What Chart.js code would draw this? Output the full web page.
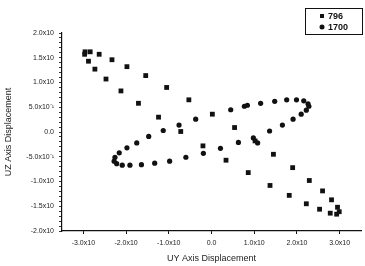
<!DOCTYPE html>
<html>
<head>
<meta charset="utf-8">
<script src="https://cdn.jsdelivr.net/npm/chart.js@4"></script>
<style>
  body { margin: 0; background: #fff; }
  #wrap { width: 365px; height: 266px; }
</style>
</head>
<body>
<div id="wrap"><canvas id="c" width="365" height="266"></canvas></div>
<script>
// series 796 - narrow diagonal orbit
var uy796 = [-2.97, -2.96, -2.84, -2.63, -2.33, -1.98, -1.54, -1.05, -0.53, 0.02, 0.54, 1.02, 1.45, 1.90, 2.29, 2.60, 2.81, 2.95, 2.99, 2.93,
             2.78, 2.53, 2.22, 1.82, 1.37, 0.86, 0.34, -0.20, -0.72, -1.24, -1.71, -2.12, -2.47, -2.73, -2.88];
var uz796 = [1.57, 1.62, 1.62, 1.57, 1.46, 1.32, 1.14, 0.90, 0.65, 0.36, 0.09, -0.18, -0.45, -0.72, -0.98, -1.19, -1.37, -1.52, -1.61, -1.66,
             -1.64, -1.56, -1.45, -1.28, -1.08, -0.82, -0.57, -0.28, 0.01, 0.30, 0.58, 0.83, 1.07, 1.27, 1.43];

// series 1700 - wide orbit
var uy1700 = [-2.16, -1.98, -1.75, -1.47, -1.13, -0.76, -0.37, 0.45, 0.77, 0.84, 1.15, 1.48, 1.76, 1.99, 2.16, 2.26, 2.28, 2.22,
              2.10, 1.91, 1.66, 1.36, 1.08, 0.98, 0.63, 0.21, -0.19, -0.60, -0.98, -1.33, -1.64, -1.91, -2.09, -2.22, -2.28, -2.26];
var uz1700 = [-0.42, -0.32, -0.22, -0.09, 0.03, 0.14, 0.26, 0.45, 0.52, 0.54, 0.58, 0.62, 0.65, 0.65, 0.63, 0.57, 0.52, 0.44,
              0.36, 0.26, 0.14, 0.02, -0.22, -0.12, -0.21, -0.33, -0.43, -0.51, -0.59, -0.63, -0.66, -0.67, -0.67, -0.64, -0.59, -0.51];

var seriesNames = ["796", "1700"];

var xTickValues = [-3, -2, -1, 0, 1, 2, 3];
var xTickLabels = ["-3.0x10", "-2.0x10", "-1.0x10", "0.0", "1.0x10", "2.0x10", "3.0x10"];
var yTickValues = [2, 1.5, 1, 0.5, 0, -0.5, -1, -1.5, -2];
var yTickLabels = ["2.0x10", "1.5x10", "1.0x10", "5.0x10⁻¹", "0.0", "-5.0x10⁻¹", "-1.0x10", "-1.5x10", "-2.0x10"];

const toPoints = (xs, ys) => xs.map((x, i) => ({x: x, y: ys[i]}));

const labelFor = (v, values, labels) => {
    for (var i = 0; i < values.length; i++) {
        if (Math.abs(values[i] - v) < 1e-6) return labels[i];
    }
    return "";
};

// legend box drawn in the upper right corner
const boxLegend = {
    id: "boxLegend",
    afterDraw(chart) {
        var ctx = chart.ctx;
        ctx.save();
        ctx.strokeStyle = "#111";
        ctx.lineWidth = 1;
        ctx.strokeRect(305.5, 8.5, 57, 26);
        ctx.fillStyle = "#111";
        ctx.font = "bold 9px 'Liberation Sans', Arial, sans-serif";
        ctx.textBaseline = "middle";
        chart.data.datasets.forEach((ds, i) => {
            var y = 16 + i * 11;
            if (ds.pointStyle === "rect") {
                ctx.fillRect(320, y - 2, 4, 4);
            } else {
                ctx.beginPath();
                ctx.arc(322, y, 2.5, 0, Math.PI * 2);
                ctx.fill();
            }
            ctx.fillText(ds.label, 328, y + 0.5);
        });
        ctx.restore();
    }
};

var tickFont = {family: "'Liberation Sans', Arial, sans-serif", size: 7};
var titleFont = {family: "'Liberation Sans', Arial, sans-serif", size: 9};

new Chart("c", {
    type: "scatter",
    data: {
        datasets: [
            {
                label: seriesNames[0],
                data: toPoints(uy796, uz796),
                pointStyle: "rect",
                pointRadius: 3.4,
                backgroundColor: "#111",
                borderColor: "#111",
                borderWidth: 0
            },
            {
                label: seriesNames[1],
                data: toPoints(uy1700, uz1700),
                pointStyle: "circle",
                pointRadius: 2.6,
                backgroundColor: "#111",
                borderColor: "#111",
                borderWidth: 0
            }
        ]
    },
    options: {
        responsive: false,
        animation: false,
        layout: {padding: {top: 33, right: 2, left: 0, bottom: 0}},
        plugins: {
            legend: {display: false},
            tooltip: {enabled: false}
        },
        scales: {
            x: {
                type: "linear",
                min: -3.5,
                max: 3.5,
                afterBuildTicks: (scale) => {
                    scale.ticks = xTickValues.map(v => ({value: v}));
                },
                afterFit: (scale) => { scale.height = 35; },
                border: {display: true, color: "#111", width: 1.2},
                grid: {drawOnChartArea: false, tickLength: 3, tickColor: "#111"},
                ticks: {
                    color: "#222",
                    font: tickFont,
                    padding: 5,
                    maxRotation: 0,
                    autoSkip: false,
                    callback: (v) => labelFor(v, xTickValues, xTickLabels)
                },
                title: {
                    display: true,
                    text: "UY Axis Displacement",
                    color: "#222",
                    font: titleFont,
                    padding: {top: 0, bottom: 2}
                }
            },
            y: {
                type: "linear",
                min: -2,
                max: 2,
                afterBuildTicks: (scale) => {
                    var t = [];
                    for (var k = -20; k <= 20; k++) t.push({value: k / 10});
                    scale.ticks = t;
                },
                afterFit: (scale) => { scale.width = 62; },
                border: {display: true, color: "#111", width: 1.2},
                grid: {drawOnChartArea: false, tickLength: 3, tickColor: "#333"},
                ticks: {
                    color: "#222",
                    font: tickFont,
                    padding: 5,
                    autoSkip: false,
                    callback: (v) => labelFor(v, yTickValues, yTickLabels)
                },
                title: {
                    display: true,
                    text: "UZ Axis Displacement",
                    color: "#222",
                    font: titleFont,
                    padding: {top: 3, bottom: 0}
                }
            }
        }
    },
    plugins: [boxLegend]
});
</script>
</body>
</html>
